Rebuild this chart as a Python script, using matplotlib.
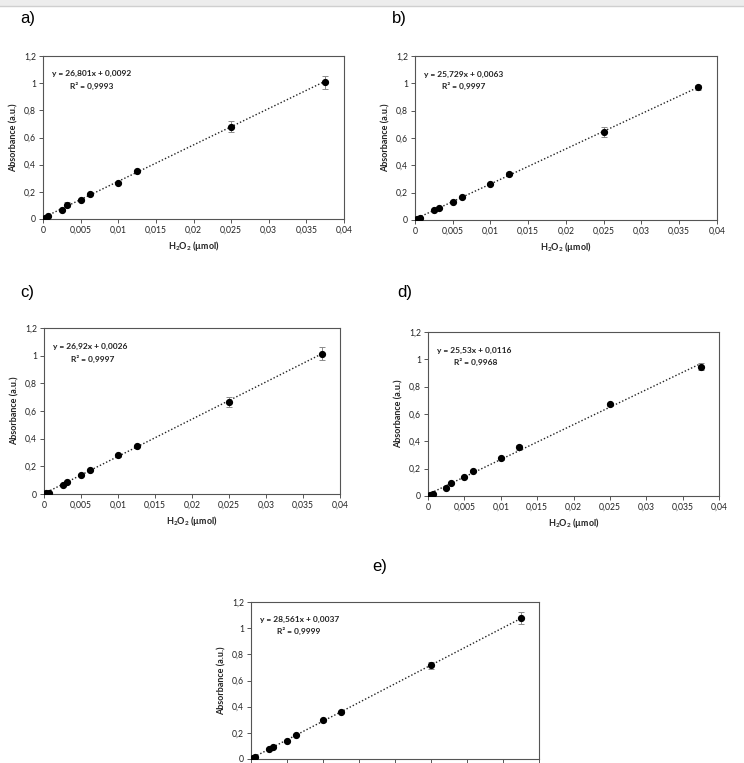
import matplotlib
matplotlib.use("Agg")
import matplotlib.pyplot as plt
from matplotlib.patches import Rectangle
import numpy as np

plt.rcParams['font.family'] = ['Lato', 'DejaVu Sans']
plt.rcParams['mathtext.fontset'] = 'custom'
plt.rcParams['mathtext.bf'] = 'Lato:bold'
plt.rcParams['mathtext.rm'] = 'Lato:bold'
plt.rcParams['mathtext.default'] = 'bf'

# ---- data ----
h2o2 = [0, 0.0003125, 0.000625, 0.0025, 0.003125, 0.005, 0.00625, 0.01, 0.0125, 0.025, 0.0375]

abs_a = [0, 0.010, 0.020, 0.065, 0.105, 0.140, 0.185, 0.265, 0.355, 0.680, 1.005]
err_a = [0, 0.004, 0.004, 0.008, 0.020, 0.008, 0.008, 0.010, 0.008, 0.040, 0.050]
abs_b = [0, 0.008, 0.015, 0.070, 0.085, 0.135, 0.165, 0.265, 0.340, 0.645, 0.970]
err_b = [0, 0.004, 0.004, 0.006, 0.006, 0.006, 0.006, 0.008, 0.008, 0.035, 0.020]
abs_c = [0, 0.005, 0.010, 0.065, 0.085, 0.135, 0.175, 0.280, 0.345, 0.665, 1.015]
err_c = [0, 0.004, 0.004, 0.006, 0.008, 0.008, 0.008, 0.010, 0.008, 0.035, 0.045]
abs_d = [0, 0.005, 0.015, 0.055, 0.095, 0.140, 0.180, 0.275, 0.355, 0.670, 0.945]
err_d = [0, 0.004, 0.004, 0.006, 0.008, 0.008, 0.008, 0.008, 0.015, 0.010, 0.025]
abs_e = [0, 0.010, 0.015, 0.075, 0.095, 0.140, 0.185, 0.295, 0.360, 0.715, 1.075]
err_e = [0, 0.004, 0.004, 0.008, 0.008, 0.008, 0.008, 0.010, 0.010, 0.030, 0.045]

slopes = [26.801, 25.729, 26.92, 25.53, 28.561]
intercepts = [0.0092, 0.0063, 0.0026, 0.0116, 0.0037]
eq_labels = ["y = 26,801x + 0,0092", "y = 25,729x + 0,0063", "y = 26,92x + 0,0026",
             "y = 25,53x + 0,0116", "y = 28,561x + 0,0037"]
r2_labels = ["R² = 0,9993", "R² = 0,9997", "R² = 0,9997", "R² = 0,9968", "R² = 0,9999"]
panel_labels = ["a)", "b)", "c)", "d)", "e)"]

xticks = [0, 0.005, 0.01, 0.015, 0.02, 0.025, 0.03, 0.035, 0.04]
xtick_labels = ["0", "0,005", "0,01", "0,015", "0,02", "0,025", "0,03", "0,035", "0,04"]
yticks = [0, 0.2, 0.4, 0.6, 0.8, 1.0, 1.2]
ytick_labels = ["0", "0,2", "0,4", "0,6", "0,8", "1", "1,2"]

series = [(abs_a, err_a), (abs_b, err_b), (abs_c, err_c), (abs_d, err_d), (abs_e, err_e)]

W, H = 744, 763
fig = plt.figure(figsize=(W / 100, H / 100), dpi=100)
fig.patch.set_facecolor('white')

# top grey strip
fig.patches.append(Rectangle((0, 1 - 6 / H), 1, 6 / H, transform=fig.transFigure,
                             facecolor='#ededed', edgecolor='none'))
fig.add_artist(plt.Line2D([0, 1], [1 - 6 / H, 1 - 6 / H], transform=fig.transFigure,
                          color='#cfcfcf', lw=1))

# axes boxes in pixels: left, top, right, bottom
boxes = [(43, 56, 344, 219), (415, 56, 717, 220), (44, 328, 340, 494),
         (428, 332, 719, 496), (251, 602, 539, 759)]
label_pos = [(20, 18), (392, 18), (20, 293), (397, 293), (372, 567)]

for i, (box, (yv, ev)) in enumerate(zip(boxes, series)):
    l, t, r, b = box
    ax = fig.add_axes([l / W, 1 - b / H, (r - l) / W, (b - t) / H])
    xs = np.array([0, 0.0375])
    ax.plot(xs, slopes[i] * xs + intercepts[i], ls=(0, (1, 1.5)), color='#222222', lw=1.0, zorder=2)
    ax.errorbar(h2o2, yv, yerr=ev, fmt='none', ecolor='#8a8a8a', elinewidth=0.7,
                capsize=2, capthick=0.7, zorder=3)
    ax.plot(h2o2, yv, 'o', color='black', ms=4.2, zorder=4)
    ax.set_xlim(0, 0.04)
    ax.set_ylim(0, 1.2)
    ax.set_xticks(xticks)
    ax.set_xticklabels(xtick_labels)
    ax.set_yticks(yticks)
    ax.set_yticklabels(ytick_labels)
    ax.tick_params(direction='out', length=3, width=0.7, colors='#555555',
                   labelsize=6.2, labelcolor='#222222', pad=2)
    for s in ax.spines.values():
        s.set_color('#555555')
        s.set_linewidth(0.8)
    ax.set_ylabel("Absorbance (a.u.)", fontsize=6.5, fontweight='bold', color='#222222', labelpad=4)
    if i < 4:
        ax.set_xlabel("H$_2$O$_2$ (µmol)", fontsize=6.5, fontweight='bold', color='#222222', labelpad=3)
    else:
        # the last panel's x tick labels fall below the bottom edge of the picture
        ax.tick_params(axis='x', labelbottom=False)
    ax.text(0.03, 0.89, eq_labels[i], transform=ax.transAxes, fontsize=6,
            fontweight='bold', color='#222222', ha='left', va='center')
    ax.text(0.09, 0.815, r2_labels[i], transform=ax.transAxes, fontsize=6,
            fontweight='bold', color='#222222', ha='left', va='center')
    lx, ly = label_pos[i]
    fig.text(lx / W, 1 - ly / H, panel_labels[i], fontsize=12, family='Liberation Sans',
             ha='left', va='center', color='black')

fig.savefig("out.png", dpi=100)
